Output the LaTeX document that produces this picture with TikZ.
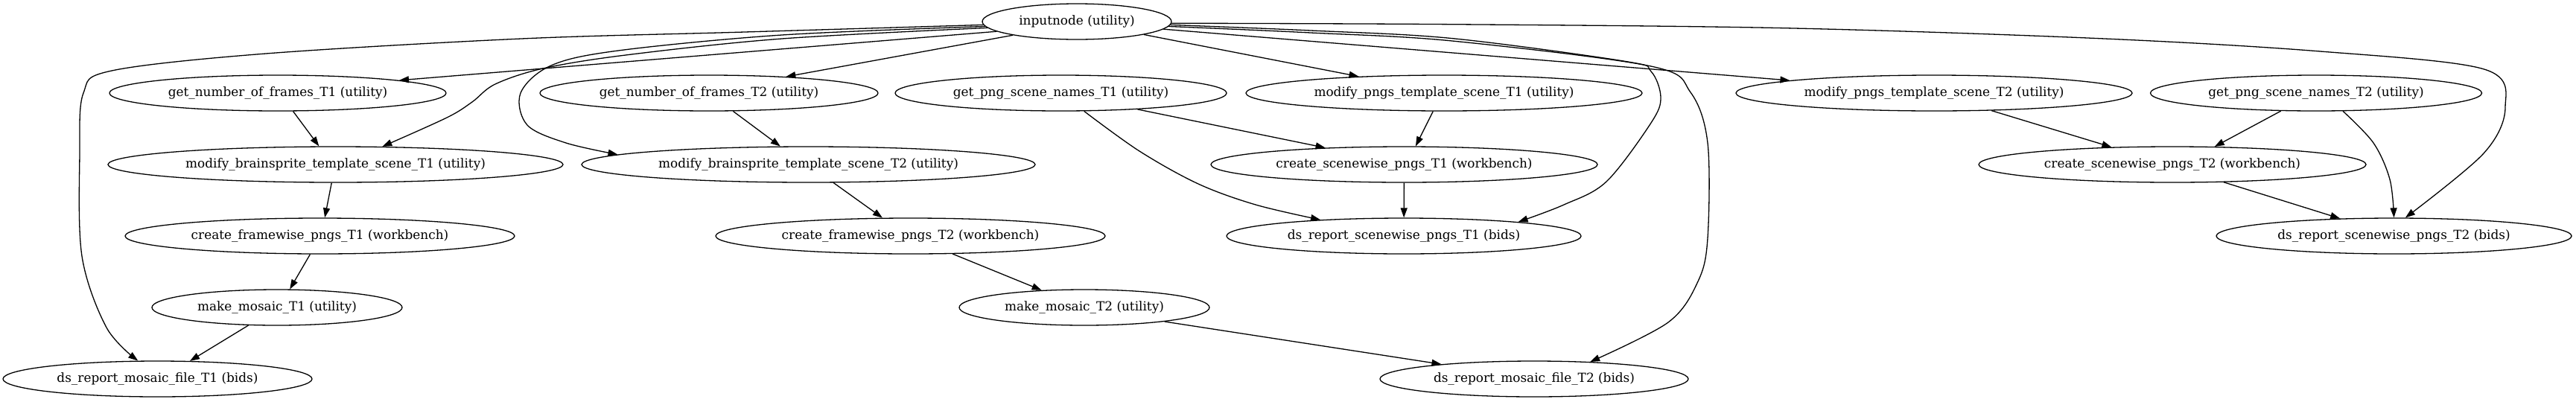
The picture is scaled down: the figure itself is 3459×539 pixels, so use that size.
\documentclass[tikz,border=0pt]{standalone}
\usepackage{fontspec}
\setmainfont{DejaVu Serif}
\usetikzlibrary{arrows.meta,shapes.geometric}
\tikzset{
  nd/.style={draw, ellipse, line width=1.3pt, inner sep=0pt, minimum height=48pt, font=\fontsize{16.9}{20}\selectfont},
  edge/.style={draw, line width=1.3pt, -{Triangle[length=13pt,width=9pt]}},
  sm/.style={smooth, tension=0.55}
}
\newcommand{\zl}[1]{\makebox[0pt]{#1}}
\begin{document}
\begin{tikzpicture}[x=1pt,y=-1pt]
\useasboundingbox (0,0) rectangle (3459,539);
% nodes
\node[nd, minimum width=254pt] (in) at (1446,29) {\zl{inputnode (utility)}};
\node[nd, minimum width=452pt] (g1) at (373,125) {\zl{get\_number\_of\_frames\_T1 (utility)}};
\node[nd, minimum width=454pt] (g2) at (952,125) {\zl{get\_number\_of\_frames\_T2 (utility)}};
\node[nd, minimum width=445pt] (p1) at (1424.5,125) {\zl{get\_png\_scene\_names\_T1 (utility)}};
\node[nd, minimum width=532pt] (mp1) at (1939,125) {\zl{modify\_pngs\_template\_scene\_T1 (utility)}};
\node[nd, minimum width=532pt] (mp2) at (2597,125) {\zl{modify\_pngs\_template\_scene\_T2 (utility)}};
\node[nd, minimum width=445pt] (p2) at (3110,125) {\zl{get\_png\_scene\_names\_T2 (utility)}};
\node[nd, minimum width=611pt] (b1) at (450.5,221) {\zl{modify\_brainsprite\_template\_scene\_T1 (utility)}};
\node[nd, minimum width=609pt] (b2) at (1085.5,221) {\zl{modify\_brainsprite\_template\_scene\_T2 (utility)}};
\node[nd, minimum width=519pt] (cs1) at (1885.5,221) {\zl{create\_scenewise\_pngs\_T1 (workbench)}};
\node[nd, minimum width=520pt] (cs2) at (2917,221) {\zl{create\_scenewise\_pngs\_T2 (workbench)}};
\node[nd, minimum width=523pt] (f1) at (429.5,317) {\zl{create\_framewise\_pngs\_T1 (workbench)}};
\node[nd, minimum width=523pt] (f2) at (1222.5,317) {\zl{create\_framewise\_pngs\_T2 (workbench)}};
\node[nd, minimum width=476pt] (r1) at (1885,317) {\zl{ds\_report\_scenewise\_pngs\_T1 (bids)}};
\node[nd, minimum width=477pt] (r2) at (3214.5,317) {\zl{ds\_report\_scenewise\_pngs\_T2 (bids)}};
\node[nd, minimum width=336pt] (m1) at (372,413) {\zl{make\_mosaic\_T1 (utility)}};
\node[nd, minimum width=336pt] (m2) at (1456,413) {\zl{make\_mosaic\_T2 (utility)}};
\node[nd, minimum width=415pt] (d1) at (211.5,509) {\zl{ds\_report\_mosaic\_file\_T1 (bids)}};
\node[nd, minimum width=414pt] (d2) at (2060,509) {\zl{ds\_report\_mosaic\_file\_T2 (bids)}};
% straight edges
\draw[edge] (in.-173) -- (g1.6);
\draw[edge] (in.-168) -- (g2.12);
\draw[edge] (in.-11) -- (mp1.169);
\draw[edge] (in.-5.6) -- (mp2.175);
\draw[edge] (g1.-50) -- (b1.132);
\draw[edge] (g2.-37) -- (b2.147);
\draw[edge] (b1.-102) -- (f1.75);
\draw[edge] (b2.-36) -- (f2.147);
\draw[edge] (f1.-118) -- (m1.55);
\draw[edge] (f2.-23) -- (m2.158);
\draw[edge] (m1.-148) -- (d1.29);
\draw[edge] (m2.-10) -- (d2.171);
\draw[edge] (p1.-12) -- (cs1.168);
\draw[edge] (mp1.-121) -- (cs1.58);
\draw[edge] (cs1) -- (r1);
\draw[edge] (mp2.-17.5) -- (cs2.164);
\draw[edge] (p2.-153) -- (cs2.23);
\draw[edge] (cs2.-19) -- (r2.162);
% curved edges
\draw[edge] plot[sm] coordinates {(in.-178) (1000,43) (700,52) (357,72) (150,95) (112,125) (107,206) (110,344) (143,440) (d1.137)};
\draw[edge] plot[sm] coordinates {(in.-177) (1050,47) (830,68) (740,88) (699,125) (708,168) (760,192) (b2.177)};
\draw[edge] plot[sm] coordinates {(in.-176) (1050,52) (840,74) (729,92) (665,113) (634,137) (600,158) (b1.21)};
\draw[edge] plot[sm] coordinates {(in.-2) (1760,41) (1950,51.6) (2183,82.5) (2217,96) (2230,131) (2217,165) (2157,244) (2100,275) (r1.7)};
\draw[edge] plot[sm] coordinates {(in.-3) (1760,44) (1950,55) (2217,89) (2270,124) (2293,192) (2293,320) (2280,378) (2240,433) (d2.17)};
\draw[edge] plot[sm] coordinates {(in.-1) (1950,32.7) (2400,37.8) (2817,51.6) (3113,68.8) (3335,92.8) (3364,144) (3335,206) (r2.58)};
\draw[edge] plot[sm] coordinates {(p1.-38) (1530,203) (1609,247) (1686,275) (r1.169)};
\draw[edge] plot[sm] coordinates {(p2.-34) (3187,192) (3209,241) (r2.90)};
\end{tikzpicture}
\end{document}
